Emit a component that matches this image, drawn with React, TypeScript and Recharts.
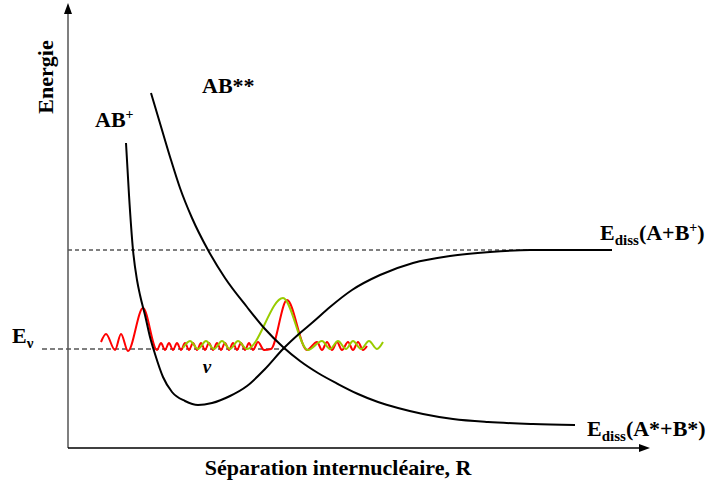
import React from 'react';
import { Line, LineChart, ReferenceDot, ReferenceLine, XAxis, YAxis } from 'recharts';

// R = internuclear separation, E = energy (arbitrary units, origin at the axes)
const abPlus = [
  { r: 58, e: 305 }, { r: 61, e: 253 }, { r: 65, e: 198 }, { r: 69, e: 168 },
  { r: 72, e: 153 }, { r: 77, e: 133 }, { r: 82, e: 111 }, { r: 87, e: 94 },
  { r: 95, e: 71 }, { r: 104, e: 56 }, { r: 117, e: 47 }, { r: 130, e: 43 },
  { r: 144, e: 45 }, { r: 162, e: 52 }, { r: 179, e: 62 }, { r: 197, e: 79 },
  { r: 215, e: 99 }, { r: 232, e: 115 }, { r: 245, e: 126 }, { r: 262, e: 141 },
  { r: 284, e: 158 }, { r: 312, e: 173 }, { r: 345, e: 185 }, { r: 382, e: 192 },
  { r: 422, e: 196 }, { r: 462, e: 198 }, { r: 544, e: 198 },
];

const abStarStar = [
  { r: 83, e: 355 }, { r: 94, e: 318 }, { r: 103, e: 288 }, { r: 112, e: 260 },
  { r: 124, e: 230 }, { r: 140, e: 198 }, { r: 157, e: 170 }, { r: 179, e: 141 },
  { r: 197, e: 119 }, { r: 215, e: 101 }, { r: 232, e: 87 }, { r: 250, e: 75 },
  { r: 270, e: 64 }, { r: 290, e: 54 }, { r: 310, e: 46 }, { r: 330, e: 40 },
  { r: 355, e: 34 }, { r: 385, e: 29 }, { r: 420, e: 26 }, { r: 465, e: 24 },
  { r: 507, e: 23 },
];

const waveRed = [
  { r: 33, e: 106 }, { r: 38, e: 114 }, { r: 47, e: 98 }, { r: 53, e: 114 },
  { r: 60, e: 97 }, { r: 75, e: 140 }, { r: 89, e: 98 }, { r: 93, e: 105 },
  { r: 97, e: 98 }, { r: 101, e: 105 }, { r: 105, e: 98 }, { r: 109, e: 105 },
  { r: 113, e: 98 }, { r: 117, e: 105 }, { r: 121, e: 98 }, { r: 125, e: 105 },
  { r: 129, e: 98 }, { r: 133, e: 105 }, { r: 137, e: 98 }, { r: 141, e: 105 },
  { r: 145, e: 98 }, { r: 149, e: 105 }, { r: 153, e: 98 }, { r: 157, e: 105 },
  { r: 161, e: 98 }, { r: 165, e: 105 }, { r: 169, e: 98 }, { r: 173, e: 105 },
  { r: 177, e: 98 }, { r: 181, e: 105 }, { r: 185, e: 98 }, { r: 190, e: 106 },
  { r: 196, e: 98 }, { r: 203, e: 99 }, { r: 219, e: 148 }, { r: 239, e: 98 },
  { r: 249, e: 106 }, { r: 254, e: 98 }, { r: 259, e: 106 }, { r: 264, e: 98 },
  { r: 269, e: 106 }, { r: 274, e: 98 }, { r: 280, e: 106 }, { r: 285, e: 98 },
  { r: 290, e: 106 }, { r: 295, e: 98 }, { r: 299, e: 102 },
];

const waveGreen = [
  { r: 115, e: 100 }, { r: 122, e: 107 }, { r: 130, e: 99 }, { r: 138, e: 107 },
  { r: 146, e: 99 }, { r: 154, e: 107 }, { r: 162, e: 99 }, { r: 170, e: 107 },
  { r: 179, e: 99 }, { r: 215, e: 150 }, { r: 240, e: 98 }, { r: 254, e: 107 },
  { r: 262, e: 99 }, { r: 270, e: 107 }, { r: 278, e: 99 }, { r: 285, e: 107 },
  { r: 293, e: 99 }, { r: 301, e: 107 }, { r: 309, e: 99 }, { r: 315, e: 106 },
];

const eNu = 99;
const eDissIon = 198;

const serif = '"Liberation Serif", "Times New Roman", serif';

const note = (key: string, r: number, e: number, draw: (x: number, y: number) => React.ReactElement) => (
  <ReferenceDot key={key} x={r} y={e} r={0} ifOverflow="visible" shape={(p: any) => draw(p.cx, p.cy)} />
);

const bold = { fontFamily: serif, fontWeight: 700, fontSize: 22, fill: '#000' };

export default function App() {
  return (
    <div style={{ position: 'absolute', left: 0, top: 0, background: '#fff' }}>
      <LineChart width={707} height={494} margin={{ top: 0, right: 0, bottom: 0, left: 0 }}>
        <XAxis type="number" dataKey="r" domain={[-68, 639]} hide />
        <YAxis type="number" dataKey="e" domain={[-46, 448]} hide />

        <ReferenceLine
          segment={[{ x: -26, y: eNu }, { x: 217, y: eNu }]}
          stroke="#555"
          strokeWidth={1.5}
          strokeDasharray="5 3"
          ifOverflow="visible"
        />
        <ReferenceLine
          segment={[{ x: 0, y: eDissIon }, { x: 544, y: eDissIon }]}
          stroke="#000"
          strokeWidth={1}
          strokeDasharray="4 3"
          ifOverflow="visible"
        />
        <ReferenceLine segment={[{ x: 0, y: 0 }, { x: 0, y: 436 }]} stroke="#555" strokeWidth={1.5} ifOverflow="visible" />
        <ReferenceLine segment={[{ x: 0, y: 0 }, { x: 572, y: 0 }]} stroke="#000" strokeWidth={1.5} ifOverflow="visible" />
        {note('up', 0, 445, (x, y) => <polygon points={`${x},${y} ${x - 4},${y + 11} ${x + 4},${y + 11}`} fill="#000" />)}
        {note('right', 582, 0, (x, y) => <polygon points={`${x},${y} ${x - 11},${y - 4} ${x - 11},${y + 4}`} fill="#000" />)}

        <Line data={waveRed} dataKey="e" type="monotone" stroke="#ff0000" strokeWidth={2} dot={false} activeDot={false} isAnimationActive={false} />
        <Line data={waveGreen} dataKey="e" type="monotone" stroke="#99cc00" strokeWidth={2} dot={false} activeDot={false} isAnimationActive={false} />
        <Line data={abPlus} dataKey="e" type="monotone" stroke="#000" strokeWidth={2} dot={false} activeDot={false} isAnimationActive={false} />
        <Line data={abStarStar} dataKey="e" type="monotone" stroke="#000" strokeWidth={2} dot={false} activeDot={false} isAnimationActive={false} />

        {note('energie', -23, 371, (x, y) => (
          <text x={x} y={y} transform={`rotate(-90 ${x} ${y})`} textAnchor="middle" dominantBaseline="central" {...bold}>
            Energie
          </text>
        ))}
        {note('abplus', 27, 321, (x, y) => (
          <text x={x} y={y} {...bold}>
            AB<tspan fontSize={14} dy={-8}>+</tspan>
          </text>
        ))}
        {note('abss', 134, 355, (x, y) => (
          <text x={x} y={y} {...bold}>AB**</text>
        ))}
        {note('enu', -56, 105, (x, y) => (
          <text x={x} y={y} {...bold}>
            E<tspan fontSize={15} dy={5}>ν</tspan>
          </text>
        ))}
        {note('nu', 139, 75, (x, y) => (
          <text x={x} y={y} textAnchor="middle" fontFamily={serif} fontStyle="italic" fontWeight={700} fontSize={19} fill="#000">ν</text>
        ))}
        {note('ediss1', 532, 208, (x, y) => (
          <text x={x} y={y} {...bold}>
            E<tspan fontSize={15} dy={5}>diss</tspan>
            <tspan dy={-5}>(A+B</tspan>
            <tspan fontSize={14} dy={-8}>+</tspan>
            <tspan dy={8}>)</tspan>
          </text>
        ))}
        {note('ediss2', 519, 12, (x, y) => (
          <text x={x} y={y} {...bold}>
            E<tspan fontSize={15} dy={5}>diss</tspan>
            <tspan dy={-5}>(A*+B*)</tspan>
          </text>
        ))}
        {note('xlabel', 270, -27, (x, y) => (
          <text x={x} y={y} textAnchor="middle" {...bold}>Séparation internucléaire, R</text>
        ))}
      </LineChart>
    </div>
  );
}
